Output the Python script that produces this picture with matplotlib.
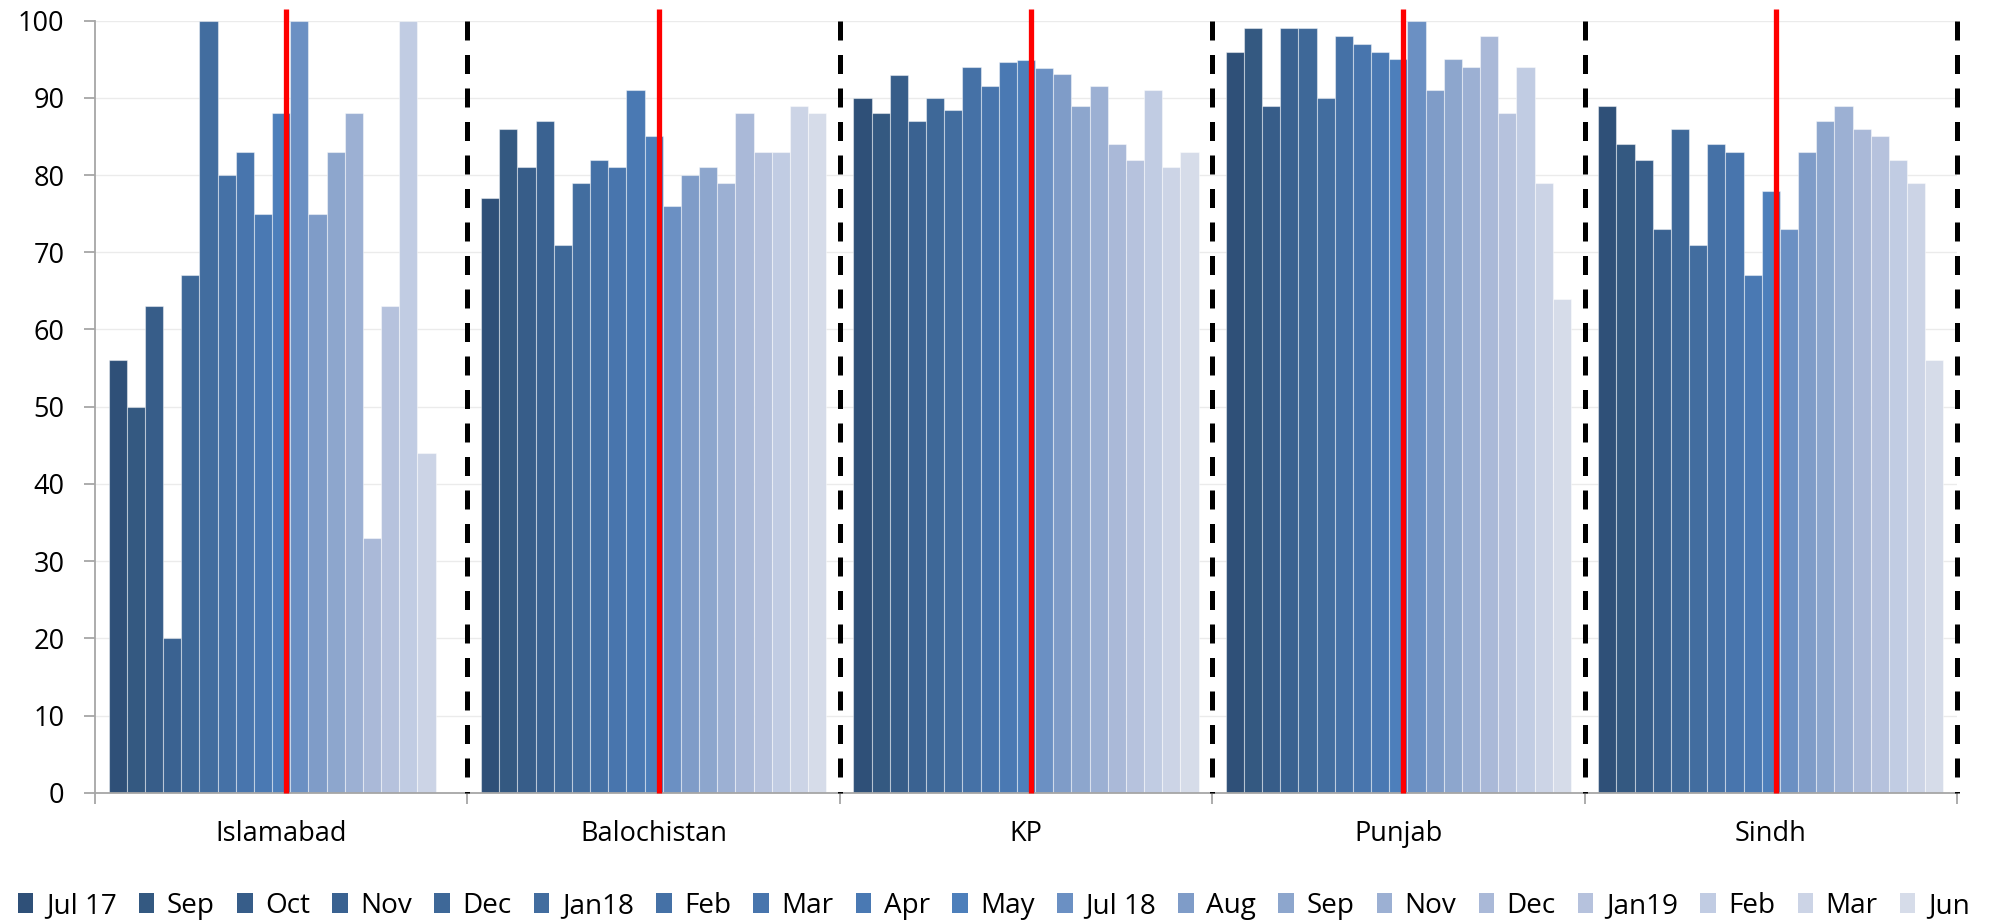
import matplotlib
matplotlib.use("Agg")
import matplotlib.pyplot as plt
from matplotlib import font_manager
from matplotlib.patches import Patch
import numpy as np

provinces = ["Islamabad", "Balochistan", "KP", "Punjab", "Sindh"]
months = ["Jul 17", "Sep", "Oct", "Nov", "Dec", "Jan18", "Feb", "Mar", "Apr", "May",
          "Jul 18", "Aug", "Sep", "Nov", "Dec", "Jan19", "Feb", "Mar", "Jun"]
colors = ["#2F5078", "#345981", "#375D89", "#3A6291", "#3E6898", "#426D9F", "#4571A6",
          "#4875AD", "#4A79B3", "#4D7FBB", "#6B90C3", "#7F9CC8", "#8DA6CD", "#9CB0D3",
          "#AAB9D8", "#B6C2DD", "#C1CCE3", "#CCD4E6", "#D6DCE9"]

islamabad = [56, 50, 63, 20, 67, 100, 80, 83, 75, 88, 100, 75, 83, 88, 33, 63, 100, 44, np.nan]
balochistan = [77, 86, 81, 87, 71, 79, 82, 81, 91, 85, 76, 80, 81, 79, 88, 83, 83, 89, 88]
kp = [90, 88, 93, 87, 90, 88.4, 94, 91.6, 94.7, 94.9, 93.9, 93.1, 88.9, 91.6, 84, 82, 91, 81, 83]
punjab = [96, 99, 89, 99, 99, 90, 98, 97, 96, 95, 100, 91, 95, 94, 98, 88, 94, 79, 64]
sindh = [89, 84, 82, 73, 86, 71, 84, 83, 67, 78, 73, 83, 87, 89, 86, 85, 82, 79, 56]

split_after = "May"  # red line between the two survey years


def have_font(name):
    try:
        font_manager.findfont(font_manager.FontProperties(family=name), fallback_to_default=False)
        return True
    except Exception:
        return False


main_font = "Open Sans"
narrow_font = "Liberation Sans Narrow" if have_font("Liberation Sans Narrow") else "Open Sans"
plt.rcParams["font.family"] = [main_font, "DejaVu Sans"]

table = np.array([islamabad, balochistan, kp, punjab, sindh], dtype=float)
n_groups, n_series = table.shape
gap = 1.5
w = 1.0 / (n_series + gap)
g = np.arange(n_groups)

fig = plt.figure(figsize=(19.9, 9.22), dpi=100)
ax = fig.add_axes([95 / 1990, 1 - 792.7 / 922, (1957 - 95) / 1990, (792.7 - 20.7) / 922])

for j in range(n_series):
    xs = g - 0.5 + (gap / 2 + j + 0.5) * w
    ax.bar(xs, table[:, j], width=w, color=colors[j], edgecolor=(1, 1, 1, 0.45),
           linewidth=0.8, zorder=2)

# red split line and dashed group separators
k = months.index(split_after) + 1
red_x = g - 0.5 + (gap / 2 + k - 0.22) * w
ax.vlines(red_x, 0, 101.5, color="#FF0000", lw=3.8, zorder=4, clip_on=False)
for b in g + 0.5:
    ax.plot([b, b], [100, 0], color="black", lw=3.6, ls=(0, (3.8, 2.9)), zorder=5,
            clip_on=False)

ax.set_xlim(-0.5, n_groups - 0.5)
ax.set_ylim(0, 100)
ax.set_yticks(range(0, 101, 10))
ax.yaxis.grid(True, color="#EBEBEB", lw=1)
ax.set_axisbelow(True)
for s in ["top", "right"]:
    ax.spines[s].set_visible(False)
for s in ["left", "bottom"]:
    ax.spines[s].set_color("#A6A6A6")
    ax.spines[s].set_linewidth(1.3)
ax.tick_params(axis="y", length=8, width=1.3, color="#A6A6A6", pad=14, labelsize=19.5)

ax.set_xticks(list(g - 0.5) + [n_groups - 0.5])
ax.set_xticklabels([])
ax.set_xticks(g, minor=True)
ax.set_xticklabels(provinces, minor=True)
ax.tick_params(axis="x", which="major", length=8, width=1.3, color="#A6A6A6")
ax.tick_params(axis="x", which="minor", length=0, pad=20, labelsize=19.5)

handles = [Patch(facecolor=c) for c in colors]
leg_size = 19.5
target = 1955
for _ in range(6):
    leg = fig.legend(handles, months, loc="center left", bbox_to_anchor=(18 / 1990, 1 - 906 / 922),
                     ncol=n_series, frameon=False, borderpad=0, borderaxespad=0,
                     handlelength=0.55, handleheight=0.75, handletextpad=0.45,
                     columnspacing=0.8, prop={"family": [narrow_font, "DejaVu Sans"], "size": leg_size})
    fig.canvas.draw()
    width = leg.get_window_extent().width
    if abs(width - target) < 4:
        break
    leg.remove()
    leg_size = leg_size * target / width

fig.savefig("out.png", dpi=100)
